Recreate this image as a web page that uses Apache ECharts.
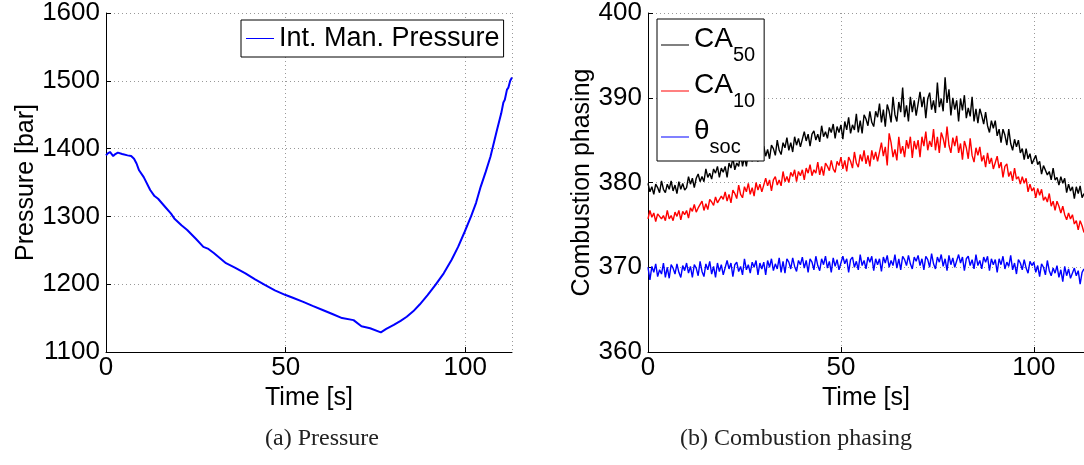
<!DOCTYPE html>
<html>
<head>
<meta charset="utf-8">
<script src="https://cdn.jsdelivr.net/npm/echarts@6/dist/echarts.min.js"></script>
<style>
  html, body { margin: 0; padding: 0; background: #fff; }
  #container { width: 1084px; height: 465px; }
</style>
</head>
<body>
<div id="container"></div>
<script>
// (a) intake manifold pressure, [time s, pressure bar]
var pressure = [
  [0,1390],[0.5,1393],[1.1,1395],[2.0,1389],[2.6,1392],[3.3,1394],[4.5,1392],[6.0,1390],[7.0,1389],
  [7.8,1385],[8.5,1378],[9.2,1368],[10.5,1358],[12.3,1339],[13.5,1330],[14.5,1326],[16.3,1315],
  [18.1,1304],[19.0,1297],[19.5,1295],[21,1287],[22.6,1280],[25,1267],[27.1,1255],[28.5,1252],
  [30,1246],[33.4,1231],[36,1224],[38.8,1216],[41.5,1207],[44.2,1199],[47,1191],[50,1184],
  [52,1180],[54.9,1174],[57.5,1168],[60.3,1162],[63,1156],[65.7,1150],[68.9,1147],[71.1,1138],
  [73.5,1135],[76.5,1129],[78,1134],[80.1,1140],[82,1146],[83.7,1152],[85.5,1160],[87.3,1170],
  [89.5,1184],[91.7,1199],[94,1216],[96.2,1236],[98,1255],[99.8,1277],[101.6,1300],[103,1320],
  [104.3,1344],[105.7,1366],[107,1388],[108.8,1427],[110,1452],[110.6,1468],[111,1472],
  [111.6,1487],[112,1490],[112.5,1500],[113,1505]
];

// (b) combustion phasing, one sample every 0.5 s from 0 to 113 s
var sampleStep = 0.5;
var ca50 = [
  379.9,378.9,379.5,378.6,379.8,379.4,378.8,380.2,379.2,378.8,379.8,379.2,380.2,379.0,379.7,378.7,380.1,379.2,379.9,379.1,
  379.4,380.7,379.8,380.5,379.4,380.5,381.0,380.1,380.7,380.1,381.6,380.6,381.1,380.4,381.6,381.1,381.9,380.6,381.7,381.2,
  381.9,380.6,382.3,381.7,382.9,381.5,382.3,381.9,383.5,381.9,383.0,381.9,383.6,383.1,382.5,383.9,382.9,382.5,383.8,383.3,
  384.3,383.1,383.9,382.8,384.4,384.0,383.2,385.0,383.8,383.3,384.7,384.1,385.3,383.8,384.7,383.6,385.4,384.4,385.2,384.2,
  384.4,386.0,384.9,385.7,384.3,385.7,386.1,385.0,385.7,384.8,386.7,385.4,386.0,385.2,386.5,385.9,386.9,385.2,386.6,385.9,
  386.8,385.1,387.2,386.2,387.7,385.8,386.8,386.2,388.1,385.9,387.3,385.8,388.0,387.5,386.7,388.4,387.1,386.6,388.4,387.7,
  389.3,387.1,388.6,386.6,389.2,388.4,387.1,390.1,388.0,387.2,389.5,388.3,391.2,387.7,389.1,387.2,390.1,388.3,389.7,387.9,
  388.1,390.7,388.9,390.1,387.6,389.9,390.6,388.6,389.7,388.2,391.8,388.9,389.9,388.4,392.4,389.4,391.0,387.9,390.0,388.6,
  389.7,387.2,389.9,388.5,390.3,387.6,388.8,387.8,390.1,387.2,388.7,387.0,388.7,387.9,386.9,388.3,386.7,385.9,387.3,386.4,
  387.3,385.5,386.3,384.7,386.3,385.6,384.4,386.3,384.6,383.8,385.1,384.2,385.0,383.5,384.0,382.7,384.0,382.8,383.4,382.2,
  382.1,383.2,382.1,382.5,381.0,382.0,382.2,380.9,381.3,380.3,381.7,380.3,380.6,379.7,380.7,379.9,380.5,378.8,379.8,379.0,
  379.5,378.1,379.5,378.7,379.6,378.2,378.7
];
var ca10 = [
  375.7,376.7,375.9,376.4,375.4,376.3,376.5,375.7,376.1,375.5,376.7,375.7,376.1,375.5,376.5,376.0,376.7,375.6,376.6,376.2,
  376.7,375.8,377.0,376.6,377.4,376.5,377.0,376.8,377.8,376.7,377.5,376.8,378.0,377.7,377.3,378.3,377.6,377.4,378.4,378.0,
  378.9,377.8,378.6,377.6,379.1,378.7,378.1,379.7,378.6,378.2,379.5,378.9,379.9,378.6,379.4,378.4,380.0,379.1,379.8,378.9,
  379.1,380.5,379.6,380.3,379.0,380.3,380.7,379.7,380.3,379.6,381.3,380.1,380.7,380.0,381.2,380.7,381.5,380.1,381.3,380.8,
  381.5,380.3,381.7,381.1,382.1,380.8,381.5,381.1,382.4,380.9,381.9,380.8,382.3,381.9,381.4,382.6,381.6,381.2,382.5,382.0,
  383.0,381.6,382.6,381.3,383.0,382.5,381.7,383.6,382.3,381.8,383.3,382.5,383.8,382.2,383.2,381.9,383.8,382.7,383.6,382.5,
  382.4,384.7,383.1,384.2,382.0,385.8,384.7,383.0,383.9,382.6,385.4,383.4,384.3,383.0,385.0,384.0,385.4,382.9,384.9,383.9,
  385.0,383.0,385.4,384.3,386.0,383.8,384.9,384.2,386.3,383.8,385.4,383.5,385.9,385.2,384.1,386.6,384.4,383.5,385.3,384.3,
  385.5,383.5,384.6,382.7,384.9,384.1,382.8,385.2,383.2,382.4,384.1,383.2,384.2,382.5,383.2,381.8,383.5,382.2,382.9,381.6,
  381.5,383.1,381.7,382.4,380.6,381.9,382.2,380.7,381.3,380.2,381.7,380.4,380.7,379.8,380.7,379.9,380.5,378.9,379.8,379.0,
  379.4,378.2,379.3,378.5,379.2,377.9,378.3,377.7,378.7,377.2,377.8,376.7,377.8,377.2,376.4,377.2,376.2,375.6,376.4,375.7,
  376.2,375.1,375.5,374.4,375.5,374.9,374.1
];
var thetaSoc = [
  370.0,368.5,370.1,369.4,370.4,368.9,369.7,369.2,370.5,368.8,370.0,368.7,370.3,369.9,369.2,370.4,369.4,368.8,370.2,369.6,
  370.5,369.3,370.1,368.8,370.3,369.9,369.0,370.7,369.5,368.9,370.4,369.7,370.7,369.2,370.1,368.8,370.5,369.5,370.3,369.1,
  369.3,370.8,369.8,370.5,368.9,370.3,370.6,369.5,370.1,369.1,371.0,369.7,370.3,369.3,370.6,370.0,370.8,369.1,370.5,369.8,
  370.6,369.1,370.8,370.0,371.0,369.6,370.4,369.8,371.1,369.4,370.7,369.3,371.0,370.6,369.8,371.1,370.1,369.5,370.8,370.3,
  371.2,369.9,370.8,369.4,371.0,370.6,369.7,371.3,370.2,369.6,371.0,370.3,371.3,369.9,370.7,369.4,371.1,370.1,370.9,369.7,
  369.9,371.3,370.4,371.0,369.4,370.9,371.2,370.0,370.7,369.7,371.5,370.2,370.8,369.8,371.2,370.6,371.3,369.6,371.0,370.3,
  371.0,369.5,371.2,370.5,371.4,370.0,370.8,370.2,371.5,369.9,371.0,369.7,371.3,370.9,370.2,371.4,370.4,369.8,371.2,370.7,
  371.4,370.2,371.0,369.7,371.3,370.9,370.0,371.6,370.4,369.8,371.2,370.6,371.5,370.1,371.0,369.6,371.4,370.3,371.1,370.0,
  370.1,371.5,370.5,371.2,369.6,371.0,371.3,370.2,370.9,369.8,371.5,370.2,370.8,369.8,371.2,370.6,371.3,369.6,371.0,370.3,
  370.9,369.4,371.0,370.3,371.3,369.8,370.6,370.1,371.4,369.7,370.5,369.2,370.9,370.5,369.7,370.9,369.9,369.3,370.7,370.2,
  370.6,369.4,370.2,368.9,370.4,370.0,369.1,370.8,369.6,369.0,369.9,369.3,370.2,368.8,369.7,368.3,370.1,369.0,369.8,368.7,
  368.5,369.9,369.0,369.6,368.0,369.4,369.8
];

function withTime(values) {
  var out = [];
  for (var i = 0; i < values.length; i++) out.push([i * sampleStep, values[i]]);
  return out;
}

var FONT = 'Liberation Sans';
var myChart = echarts.init(document.getElementById('container'));

function xAx(idx) {
  return {
    gridIndex: idx, type: 'value', min: 0, max: 113, interval: 50,
    name: 'Time [s]', nameLocation: 'middle', nameGap: 30,
    nameTextStyle: {fontFamily: FONT, fontSize: 25, color: '#000'},
    axisLine: {lineStyle: {color: '#000', width: 1}},
    axisTick: {inside: true, length: 5, lineStyle: {color: '#000'}},
    axisLabel: {fontFamily: FONT, fontSize: 26, color: '#000', margin: 3, showMaxLabel: false},
    splitLine: {show: true, lineStyle: {color: '#999', type: [1, 3], width: 1}}
  };
}
function yAx(idx, min, max, step, name, gap) {
  return {
    gridIndex: idx, type: 'value', min: min, max: max, interval: step,
    name: name, nameLocation: 'middle', nameGap: gap,
    nameTextStyle: {fontFamily: FONT, fontSize: 25, color: '#000'},
    axisLine: {show: true, lineStyle: {color: '#000', width: 1}},
    axisTick: {show: true, inside: true, length: 5, lineStyle: {color: '#000'}},
    axisLabel: {fontFamily: FONT, fontSize: 26, color: '#000', margin: 6,
      formatter: function (v) { return String(v); }},
    splitLine: {show: true, lineStyle: {color: '#999', type: [1, 3], width: 1}}
  };
}

var option = {
  backgroundColor: '#ffffff',
  animation: false,
  grid: [
    {left: 106, top: 12, width: 406, height: 340},
    {left: 648, top: 12, width: 440, height: 340}
  ],
  xAxis: [xAx(0), xAx(1)],
  yAxis: [
    yAx(0, 1100, 1600, 100, 'Pressure [bar]', 62),
    yAx(1, 360, 400, 10, 'Combustion phasing', 48)
  ],
  legend: [
    {
      data: ['Int. Man. Pressure'],
      left: 241, top: 20, padding: [5, 4, 5, 5],
      icon: 'rect', itemWidth: 28, itemHeight: 1, itemGap: 4,
      backgroundColor: '#fff', borderColor: '#000', borderWidth: 1, borderRadius: 0,
      textStyle: {fontFamily: FONT, fontSize: 27, color: '#000'}
    },
    {
      data: ['CA50', 'CA10', 'θsoc'],
      orient: 'vertical',
      left: 657, top: 19, padding: [6, 9, 4, 4], itemGap: 6,
      icon: 'rect', itemWidth: 28, itemHeight: 1,
      backgroundColor: '#fff', borderColor: '#000', borderWidth: 1, borderRadius: 0,
      formatter: function (name) {
        if (name === 'CA50') return '{m|CA}{s|50}';
        if (name === 'CA10') return '{m|CA}{s|10}';
        return '{m|θ}{s|soc}';
      },
      textStyle: {
        fontFamily: FONT, color: '#000',
        rich: {
          m: {fontFamily: FONT, fontSize: 28, color: '#000', lineHeight: 40, verticalAlign: 'top', padding: [0, 0, 8, 0]},
          s: {fontFamily: FONT, fontSize: 20, color: '#000', lineHeight: 40, verticalAlign: 'bottom', padding: [17, 0, 0, 0]}
        }
      }
    }
  ],
  graphic: [
    {type: 'text', left: 265, top: 427,
      style: {text: '(a) Pressure', font: '24px "Liberation Serif"', fill: '#222'}},
    {type: 'text', left: 680, top: 427,
      style: {text: '(b) Combustion phasing', font: '24px "Liberation Serif"', fill: '#222'}}
  ],
  series: [
    {name: 'Int. Man. Pressure', type: 'line', xAxisIndex: 0, yAxisIndex: 0,
      data: pressure, symbol: 'none', color: '#0000ff',
      lineStyle: {width: 2, color: '#0000ff'}},
    {name: 'CA50', type: 'line', xAxisIndex: 1, yAxisIndex: 1,
      data: withTime(ca50), symbol: 'none', color: '#000000',
      lineStyle: {width: 1.4, color: '#000000'}},
    {name: 'CA10', type: 'line', xAxisIndex: 1, yAxisIndex: 1,
      data: withTime(ca10), symbol: 'none', color: '#ff0000',
      lineStyle: {width: 1.4, color: '#ff0000'}},
    {name: 'θsoc', type: 'line', xAxisIndex: 1, yAxisIndex: 1,
      data: withTime(thetaSoc), symbol: 'none', color: '#0000ff',
      lineStyle: {width: 1.4, color: '#0000ff'}}
  ]
};
myChart.setOption(option);
</script>
</body>
</html>
